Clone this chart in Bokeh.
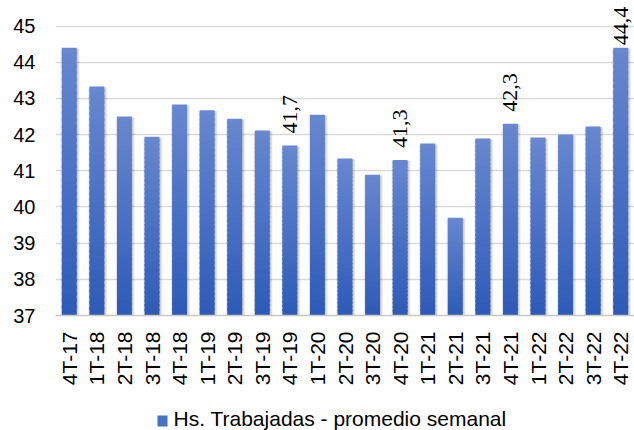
import numpy as np
from bokeh.plotting import figure
from bokeh.layouts import column
from bokeh.models import ColumnDataSource, LabelSet, FixedTicker, Range1d
from bokeh.core.properties import value
from bokeh.transform import dodge
from bokeh.embed import file_html
from bokeh.resources import INLINE

# ---- data ----
quarters = ["4T-17", "1T-18", "2T-18", "3T-18", "4T-18", "1T-19", "2T-19", "3T-19",
            "4T-19", "1T-20", "2T-20", "3T-20", "4T-20", "1T-21", "2T-21", "3T-21",
            "4T-21", "1T-22", "2T-22", "3T-22", "4T-22"]
hours = [44.4, 43.33, 42.5, 41.94, 42.83, 42.67, 42.44, 42.11, 41.7, 42.55, 41.34,
         40.89, 41.3, 41.75, 39.7, 41.89, 42.3, 41.92, 42.0, 42.22, 44.4]
value_labels = ["", "", "", "", "", "", "", "", "41,7", "", "", "", "41,3", "", "",
                "", "42,3", "", "", "", "44,4"]
y_ticks = [37, 38, 39, 40, 41, 42, 43, 44, 45]
series_name = "Hs. Trabajadas - promedio semanal"

FONT = "Liberation Sans"
Y0, Y1 = 37, 45.65
LEFT = 55

p = figure(x_range=quarters, y_range=Range1d(Y0, Y1), width=634, height=400,
           output_backend="svg", toolbar_location=None,
           min_border_left=LEFT, min_border_right=0, min_border_top=2, min_border_bottom=85)
p.outline_line_color = None
p.background_fill_color = "white"
p.border_fill_color = "white"

# grid
p.xgrid.grid_line_color = None
p.ygrid.grid_line_color = "#d9d9d9"
p.ygrid.grid_line_width = 1.6
p.yaxis.ticker = FixedTicker(ticks=y_ticks)

# shadow behind bars
vals = np.array(hours)
shadow_src = ColumnDataSource(dict(x=quarters, top=vals - 0.02))
for k in range(4):
    p.vbar(x=dodge("x", 0.03, range=p.x_range), top="top", bottom=Y0, width=0.56 + 0.045 * k,
           source=shadow_src, fill_color="#000000", fill_alpha=0.05, line_color=None)

# gradient bars built from stacked segments
N = 40
c_top = np.array([0x68, 0x88, 0xd0])
c_bot = np.array([0x2e, 0x5b, 0xb8])
xs, bots, tops, cols = [], [], [], []
for q, v in zip(quarters, hours):
    h = (v - Y0) / N
    for k in range(N):
        t = (k + 0.5) / N
        c = (c_bot + (c_top - c_bot) * t).astype(int)
        xs.append(q)
        bots.append(Y0 + h * k)
        tops.append(min(Y0 + h * (k + 1) + h * 0.5, v))
        cols.append("#%02x%02x%02x" % tuple(c))
p.vbar(x=xs, bottom=bots, top=tops, width=0.54, fill_color=cols, line_color=None)

# value labels
lab_y = np.minimum(vals + 0.33, 44.47)
lab_src = ColumnDataSource(dict(x=quarters, y=lab_y, text=value_labels))
labels = LabelSet(x="x", y="y", text="text", source=lab_src, angle=np.pi / 2,
                  text_align="left", text_baseline="middle",
                  text_font=FONT, text_font_size="22px", text_color="#000000")
p.add_layout(labels)

# axes
p.yaxis.axis_line_color = None
p.yaxis.major_tick_line_color = None
p.yaxis.minor_tick_line_color = None
p.yaxis.major_tick_out = 0
p.yaxis.major_tick_in = 0
p.yaxis.major_label_standoff = 20
p.yaxis.major_label_text_font = FONT
p.yaxis.major_label_text_font_size = "20px"
p.yaxis.major_label_text_color = "#000000"

p.xaxis.axis_line_color = "#c8c8c8"
p.xaxis.axis_line_width = 1.6
p.xaxis.major_tick_line_color = None
p.xaxis.minor_tick_line_color = None
p.xaxis.major_tick_out = 0
p.xaxis.major_tick_in = 0
p.xaxis.major_label_orientation = np.pi / 2
p.xaxis.major_label_standoff = 16
p.xaxis.major_label_text_font = FONT
p.xaxis.major_label_text_font_size = "21px"
p.xaxis.major_label_text_color = "#000000"

# legend strip below the chart (page-pixel coordinates, frame aligned with the chart)
lg = figure(width=634, height=30, x_range=Range1d(LEFT, 634), y_range=Range1d(0, 30),
            x_axis_type=None, y_axis_type=None,
            output_backend="svg", toolbar_location=None,
            min_border_left=LEFT, min_border_right=0, min_border_top=0, min_border_bottom=0)
lg.grid.grid_line_color = None
lg.outline_line_color = None
lg.background_fill_color = "white"
lg.border_fill_color = "white"
lg.quad(left=[157], right=[167], bottom=[4], top=[15], fill_color="#4472c4", line_color=None)
lg.text(x=[173], y=[12], text=[series_name], text_font=value(FONT), text_font_size="21px",
        text_color="#000000", text_baseline="middle", text_align="left")

layout = column(p, lg, spacing=0)
open("out.html", "w").write(file_html(layout, INLINE))
